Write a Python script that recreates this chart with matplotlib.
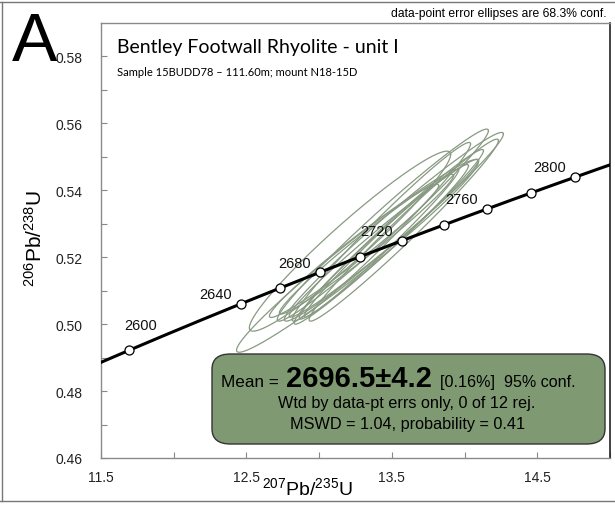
import numpy as np
import matplotlib
matplotlib.use("Agg")
import matplotlib.pyplot as plt
from matplotlib.patches import FancyBboxPatch
from matplotlib.lines import Line2D

plt.rcParams['font.family'] = ['Liberation Sans', 'DejaVu Sans']
plt.rcParams['mathtext.fontset'] = 'custom'
plt.rcParams['mathtext.rm'] = 'Liberation Sans'
plt.rcParams['mathtext.it'] = 'Liberation Sans:italic'
plt.rcParams['mathtext.bf'] = 'Liberation Sans:bold'

# ---- data ----
# data-point error ellipses (207Pb/235U, 206Pb/238U), half-extents and error correlation
ell_x = [13.264, 13.212, 13.438, 13.514, 13.428, 13.445, 13.445, 13.325, 13.479, 13.428, 13.240, 13.582]
ell_y = [0.5204, 0.5248, 0.5296, 0.5291, 0.5276, 0.5257, 0.5246, 0.5239, 0.5261, 0.5242, 0.5219, 0.5281]
ell_sx = [0.832, 0.692, 0.726, 0.753, 0.613, 0.651, 0.582, 0.599, 0.651, 0.531, 0.582, 0.651]
ell_sy = [0.0288, 0.0269, 0.0287, 0.0282, 0.0267, 0.0236, 0.0231, 0.0209, 0.0261, 0.0221, 0.0199, 0.0272]
ell_rho = [0.978, 0.962, 0.983, 0.983, 0.983, 0.985, 0.984, 0.982, 0.986, 0.987, 0.980, 0.984]

marker_ages = [2580, 2640, 2660, 2680, 2700, 2720, 2740, 2760, 2780, 2800]   # Ma
label_ages = [2600, 2640, 2680, 2720, 2760, 2800]                          # Ma
x_ticks_major = [11.5, 12.5, 13.5, 14.5]
y_ticks_major = [0.46, 0.48, 0.50, 0.52, 0.54, 0.56, 0.58]

LAMBDA238 = 1.55125e-10
LAMBDA235 = 9.8485e-10

def concordia(t_ma):
    t = np.asarray(t_ma, dtype=float) * 1e6
    return np.exp(LAMBDA235 * t) - 1.0, np.exp(LAMBDA238 * t) - 1.0

W, H = 615, 506
fig = plt.figure(figsize=(W / 100, H / 100), dpi=100)

def fx(px):
    return px / W

def fy(py):
    return 1 - py / H

ax = fig.add_axes([fx(101), fy(459), fx(610) - fx(101), fy(24) - fy(459)])
ax.set_xlim(11.5, 15.0)
ax.set_ylim(0.46, 0.59)

# ellipses
th = np.linspace(0, 2 * np.pi, 400)
for cx, cy, sx, sy, r in zip(ell_x, ell_y, ell_sx, ell_sy, ell_rho):
    ex = cx + sx * np.cos(th)
    ey = cy + sy * (r * np.cos(th) + np.sqrt(1 - r * r) * np.sin(th))
    ax.plot(ex, ey, color='#889a82', lw=0.9, zorder=2)

# concordia
tc = np.linspace(2500, 2900, 400)
cxx, cyy = concordia(tc)
ax.plot(cxx, cyy, color='black', lw=2.2, zorder=3, solid_capstyle='butt')
mx, my = concordia(marker_ages)
ax.plot(mx, my, 'o', ms=6.5, mfc='white', mec='black', mew=0.9, zorder=4)
lx, ly = concordia(label_ages)
for a, x, y in zip(label_ages, lx, ly):
    ax.annotate(str(a), (x, y), xytext=(-6.5, 2.0), textcoords='offset points',
                ha='right', va='bottom', fontsize=10.5, color='#111111', zorder=5)

# axes styling
xt = np.arange(11.5, 15.01, 0.5)
ax.set_xticks(xt)
ax.set_xticklabels([f"{v:.1f}" if np.any(np.isclose(v, x_ticks_major)) else "" for v in xt])
yt = np.arange(0.46, 0.5851, 0.01)
ax.set_yticks(yt)
ax.set_yticklabels([f"{v:.2f}" if np.any(np.isclose(v, y_ticks_major)) else "" for v in yt])
ax.tick_params(direction='in', length=4, width=0.8, color='#888888', labelsize=10,
               labelcolor='#222222')
ax.tick_params(axis='x', pad=9)
ax.tick_params(axis='y', pad=13)
for s in ['left', 'bottom', 'top']:
    ax.spines[s].set_color('#8a8a8a')
    ax.spines[s].set_linewidth(1.0)
ax.spines['right'].set_color('#222222')
ax.spines['right'].set_linewidth(1.2)

# result box
box = FancyBboxPatch((fx(212), fy(445)), fx(605) - fx(212), fy(355) - fy(445),
                     boxstyle="round,pad=0,rounding_size=0.03", transform=fig.transFigure,
                     facecolor='#7f9a72', edgecolor='#333333', lw=1.0, zorder=10)
fig.patches.append(box)
fig.text(fx(221), fy(387), "Mean =", fontsize=12.3, ha='left', va='baseline', zorder=11)
fig.text(fx(286), fy(387), "2696.5±4.2", fontsize=21, fontweight='bold', ha='left', va='baseline', zorder=11)
fig.text(fx(440), fy(387), "[0.16%]  95% conf.", fontsize=11.6, ha='left', va='baseline', zorder=11)
fig.text(fx(407), fy(408), "Wtd by data-pt errs only, 0 of 12 rej.", fontsize=11.7, ha='center', va='baseline', zorder=11)
fig.text(fx(407), fy(429), "MSWD = 1.04, probability = 0.41", fontsize=11.7, ha='center', va='baseline', zorder=11)

# titles and labels
fig.text(fx(35), fy(61), "A", fontsize=49, ha='center', va='baseline')
fig.text(fx(607), fy(14), "data-point error ellipses are 68.3% conf.", fontsize=8.7, ha='right', va='center')
fig.text(fx(117), fy(47), "Bentley Footwall Rhyolite - unit I", fontsize=14, ha='left', va='center',
         family=['Lato', 'DejaVu Sans'])
fig.text(fx(117), fy(72), "Sample 15BUDD78 – 111.60m; mount N18-15D", fontsize=8, ha='left', va='center',
         family=['Lato', 'DejaVu Sans'])
fig.text(fx(307), fy(488), r"$^{207}$Pb/$^{235}$U", fontsize=14, ha='center', va='center')
fig.text(fx(35), fy(238), r"$^{206}$Pb/$^{238}$U", fontsize=15, ha='center', va='center', rotation=90)

# outer frame
for (x0, y0, x1, y1) in [(0, 3, 615, 3), (2, 3, 2, 502), (0, 502, 615, 502)]:
    fig.add_artist(Line2D([fx(x0), fx(x1)], [fy(y0), fy(y1)], transform=fig.transFigure,
                          color='#777777', lw=1.0))

fig.savefig("out.png", dpi=100)
